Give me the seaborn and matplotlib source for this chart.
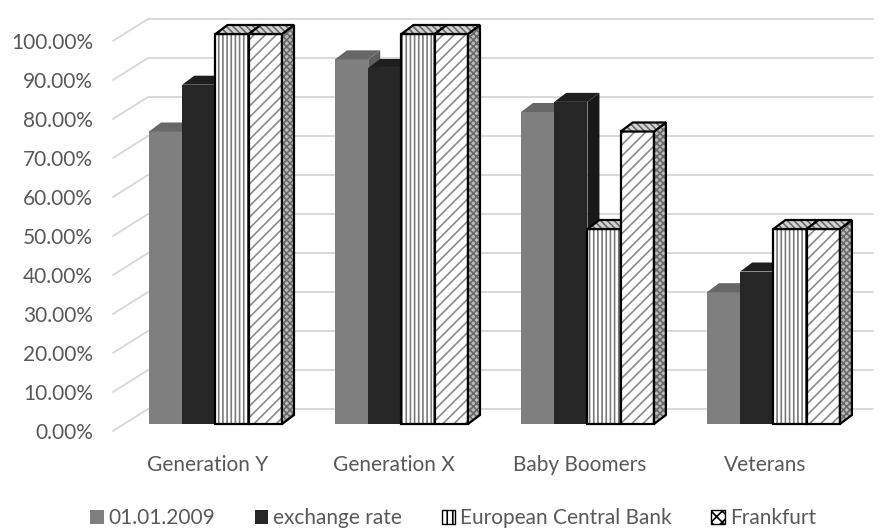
import pandas as pd
import matplotlib
matplotlib.use("Agg")
import matplotlib.pyplot as plt
from matplotlib.patches import Polygon, Rectangle, Patch
import seaborn as sns

generations = ["Generation Y", "Generation X", "Baby Boomers", "Veterans"]
series_names = ["01.01.2009", "exchange rate", "European Central Bank", "Frankfurt"]
val_2009 = [0.75, 0.935, 0.80, 0.338]
val_exchange = [0.87, 0.913, 0.826, 0.391]
val_ecb = [1.0, 1.0, 0.5, 0.5]
val_frankfurt = [1.0, 1.0, 0.75, 0.5]
y_ticks = [i / 10 for i in range(11)]

front_colors = ["#7f7f7f", "#262626", "#ffffff", "#ffffff"]
top_colors = ["#676767", "#1e1e1e", "#d4d4d4", "#d4d4d4"]
side_colors = ["#5e5e5e", "#191919", "#bcbcbc", "#bcbcbc"]
front_hatch = [None, None, "||||", "///"]
hatch_colors = [None, None, "#7a7a7a", "#8a8a8a"]
text_color = "#595959"

rows = []
for name, vals in zip(series_names, [val_2009, val_exchange, val_ecb, val_frankfurt]):
    for gen, v in zip(generations, vals):
        rows.append({"generation": gen, "series": name, "value": v})
df = pd.DataFrame(rows)

sns.set_style("white")
plt.rcParams["font.family"] = ["Lato", "DejaVu Sans"]
plt.rcParams["hatch.linewidth"] = 1.2

fig = plt.figure(figsize=(8.8, 5.29), dpi=100)
ax = fig.add_axes([100 / 880, (529 - 443.5) / 529, 780 / 880, 436.8 / 529])

sns.barplot(data=df, x="generation", y="value", hue="series",
            order=generations, hue_order=series_names, palette=front_colors,
            width=0.715, gap=0, errorbar=None, legend=False, saturation=1, ax=ax)

xlim = (-0.621, 3.573)
ylim = (-0.05, 1.07)
ax.set_xlim(*xlim)
ax.set_ylim(*ylim)
ax.axis("off")

# data units per pixel
px_x = (xlim[1] - xlim[0]) / 780
px_y = (ylim[1] - ylim[0]) / 436.8
ddx, ddy = 12 * px_x, 9 * px_y


def add_face(pts, fc, hatch, z):
    if hatch:
        ax.add_patch(Polygon(pts, closed=True, fc=fc, ec="#6a6a6a", hatch=hatch, lw=0, zorder=z))
        ax.add_patch(Polygon(pts, closed=True, fill=False, ec="black", lw=1.6, zorder=z, joinstyle="miter"))
    else:
        ax.add_patch(Polygon(pts, closed=True, fc=fc, ec="none", lw=0, zorder=z))


for k, cont in enumerate(ax.containers):
    z = 3 + k * 0.1
    for bar in cont:
        x0, w, h = bar.get_x(), bar.get_width(), bar.get_height()
        x1 = x0 + w
        bar.set_zorder(z)
        bar.set_linewidth(0)
        hatched = front_hatch[k] is not None
        if hatched:
            bar.set_hatch(front_hatch[k])
            bar.set_edgecolor(hatch_colors[k])
            ax.add_patch(Rectangle((x0, 0), w, h, fill=False, ec="black", lw=1.6, zorder=z))
        side = [(x1, 0), (x1 + ddx, ddy), (x1 + ddx, h + ddy), (x1, h)]
        top = [(x0, h), (x1, h), (x1 + ddx, h + ddy), (x0 + ddx, h + ddy)]
        add_face(side, side_colors[k], "xxxxx" if hatched else None, z)
        add_face(top, top_colors[k], "\\\\\\\\\\" if hatched else None, z)

# back wall gridlines
left_x = xlim[0] + 13 * px_x
wall_x = xlim[0] + 48 * px_x
right_x = xlim[0] + 773 * px_x
for v in y_ticks:
    ax.plot([left_x, wall_x, right_x], [v - 7 * px_y, v + 15 * px_y, v + 15 * px_y],
            color="#d9d9d9", lw=1.4, zorder=1, clip_on=False)
    ax.text(xlim[0] - 7 * px_x, v - 9 * px_y, f"{v:.2%}", ha="right", va="center",
            fontsize=15, color=text_color)

for i, gen in enumerate(generations):
    ax.text(i - 8 * px_x, -41 * px_y, gen, ha="center", va="center",
            fontsize=15, color=text_color)

handles = [
    Patch(fc="#7f7f7f", ec="none"),
    Patch(fc="#262626", ec="none"),
    Patch(fc="white", ec="black", hatch="|||"),
    Patch(fc="white", ec="black", hatch="xxx"),
]
fig.legend(handles, series_names, loc="center", bbox_to_anchor=(0.515, 0.02), ncol=4,
           frameon=False, fontsize=15, labelcolor=text_color, handlelength=0.63,
           handleheight=0.63, handletextpad=0.25, columnspacing=1.9, borderpad=0)

fig.savefig("out.png", dpi=100)
